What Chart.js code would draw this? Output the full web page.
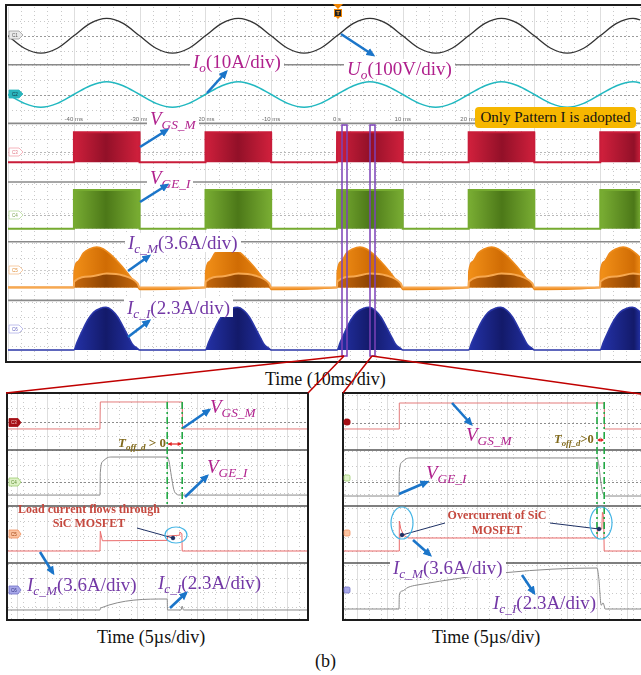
<!DOCTYPE html>
<html><head><meta charset="utf-8">
<script src="https://cdn.jsdelivr.net/npm/chart.js@4.4.1/dist/chart.umd.min.js"></script>
<style>
html,body{margin:0;padding:0;background:#fff;}
#wrap{position:relative;width:641px;height:675px;overflow:hidden;background:#fff;font-family:"Liberation Serif","DejaVu Serif",serif;}
.box{position:absolute;border:2px solid #1c1c1c;}
canvas{position:absolute;}
.lbl{position:absolute;white-space:nowrap;line-height:1;font-size:19px;font-family:"Liberation Serif",serif;color:#111;}
.lbl i{font-style:italic}
.lbl sub{font-size:0.7em;vertical-align:-0.3em;font-style:italic;line-height:0}
.mag{color:#b0218d}
.pur{color:#7338a6}
.bg{background:#fff;padding:0 3px}
.toff{position:absolute;white-space:nowrap;font:bold 13px "Liberation Serif",serif;color:#816a1c;line-height:1}
.toff sub{font-size:0.7em;vertical-align:-0.3em;line-height:0}
.note{position:absolute;font:bold 12px "Liberation Serif",serif;color:#c5483e;text-align:center;line-height:14px}
.tick{position:absolute;font:6px "Liberation Sans",sans-serif;color:#666;transform:translateX(-50%);white-space:nowrap}
#pat{position:absolute;background:#f6b700;border-radius:4px;font:15px "Liberation Serif",serif;text-align:center;color:#111}
</style>
</head>
<body>
<div id="wrap">
  <canvas id="top" width="634" height="355" style="left:7px;top:6px"></canvas>
  <div class="box" style="left:5px;top:4px;width:656px;height:355px"></div>
  <canvas id="left" width="299" height="225" style="left:8px;top:394px"></canvas>
  <div class="box" style="left:6px;top:392px;width:299px;height:225px"></div>
  <canvas id="right" width="297" height="225" style="left:344px;top:394px"></canvas>
  <div class="box" style="left:342px;top:392px;width:330px;height:225px"></div>

  <div id="ticks"></div>

  <div class="lbl mag bg" style="left:190px;top:52px"><i>I</i><sub>o</sub>(10A/div)</div>
  <div class="lbl mag bg" style="left:344px;top:59px"><i>U</i><sub>o</sub>(100V/div)</div>
  <div class="lbl mag bg" style="left:147px;top:109px"><i>V</i><sub>GS_M</sub></div>
  <div class="lbl mag bg" style="left:147px;top:168px"><i>V</i><sub>GE_I</sub></div>
  <div class="lbl pur bg" style="left:125px;top:233px"><i>I</i><sub>c_M</sub>(3.6A/div)</div>
  <div class="lbl pur bg" style="left:124px;top:298px"><i>I</i><sub>c_I</sub>(2.3A/div)</div>
  <div id="pat" style="left:475px;top:107px;width:161px;height:21px;line-height:21px">Only Pattern I is adopted</div>

  <div class="lbl" style="left:265px;top:370px;font-size:18px">Time (10ms/div)</div>

  <div class="lbl mag" style="left:210px;top:397px"><i>V</i><sub>GS_M</sub></div>
  <div class="lbl mag" style="left:207px;top:457px"><i>V</i><sub>GE_I</sub></div>
  <div class="lbl pur" style="left:27px;top:575px"><i>I</i><sub>c_M</sub>(3.6A/div)</div>
  <div class="lbl pur" style="left:158px;top:573px"><i>I</i><sub>c_I</sub>(2.3A/div)</div>
  <div class="toff" style="left:118px;top:436px"><i>T</i><sub><i>off_d</i></sub> &gt; 0</div>
  <div class="note" style="left:8px;top:502px;width:162px">Load current flows through<br>SiC MOSFET</div>

  <div class="lbl mag" style="left:466px;top:425px"><i>V</i><sub>GS_M</sub></div>
  <div class="lbl mag" style="left:426px;top:463px"><i>V</i><sub>GE_I</sub></div>
  <div class="lbl pur bg" style="left:390px;top:558px"><i>I</i><sub>c_M</sub>(3.6A/div)</div>
  <div class="lbl pur" style="left:493px;top:593px"><i>I</i><sub>c_I</sub>(2.3A/div)</div>
  <div class="toff" style="left:554px;top:433px;font-size:12.5px"><i>T</i><sub><i>off_d</i></sub>&gt;0</div>
  <div class="note" style="left:437px;top:508px;width:120px;line-height:15px">Overcurrent of SiC<br>MOSFET</div>

  <div class="lbl" style="left:97px;top:628px;font-size:18px">Time (5µs/div)</div>
  <div class="lbl" style="left:432px;top:628px;font-size:18px">Time (5µs/div)</div>
  <div class="lbl" style="left:315px;top:652px;font-size:18px">(b)</div>

  <svg width="641" height="675" style="position:absolute;left:0;top:0;pointer-events:none">
    <defs>
      <marker id="ah" viewBox="0 0 10 10" refX="7" refY="5" markerWidth="9" markerHeight="9" markerUnits="userSpaceOnUse" orient="auto">
        <path d="M0,0.5 L10,5 L0,9.5 z" fill="#1b75c9"/>
      </marker>
    </defs>
    <!-- zoom window markers -->
    <rect x="342" y="125" width="5" height="231" fill="none" stroke="#7c42b8" stroke-width="1.5"/>
    <rect x="370" y="125" width="5" height="231" fill="none" stroke="#7c42b8" stroke-width="1.5"/>
    <!-- connectors -->
    <g stroke="#c00000" stroke-width="1.5" fill="none">
      <line x1="344" y1="356" x2="6" y2="393"/>
      <line x1="344" y1="356" x2="308" y2="393"/>
      <line x1="372" y1="356" x2="343" y2="393"/>
      <line x1="372" y1="356" x2="662" y2="397"/>
    </g>
    <!-- blue arrows -->
    <g stroke="#1b75c9" stroke-width="2.6">
      <line x1="207" y1="93" x2="226" y2="72" marker-end="url(#ah)"/>
      <line x1="341" y1="34" x2="373" y2="55" marker-end="url(#ah)"/>
      <line x1="140" y1="147" x2="167" y2="130" marker-end="url(#ah)"/>
      <line x1="140" y1="202" x2="167" y2="185" marker-end="url(#ah)"/>
      <line x1="128" y1="271" x2="149" y2="256" marker-end="url(#ah)"/>
      <line x1="128" y1="337" x2="149" y2="321" marker-end="url(#ah)"/>
      <line x1="183" y1="428" x2="209" y2="410" marker-end="url(#ah)"/>
      <line x1="185" y1="497" x2="207" y2="476" marker-end="url(#ah)"/>
      <line x1="40" y1="552" x2="53" y2="573" marker-end="url(#ah)"/>
      <line x1="170" y1="608" x2="186" y2="593" marker-end="url(#ah)"/>
      <line x1="452" y1="403" x2="471" y2="424" marker-end="url(#ah)"/>
      <line x1="399" y1="494" x2="427" y2="482" marker-end="url(#ah)"/>
      <line x1="413" y1="540" x2="430" y2="555" marker-end="url(#ah)"/>
      <line x1="522" y1="575" x2="534" y2="593" marker-end="url(#ah)"/>
    </g>
    <!-- pointers -->
    <g stroke="#1d2f63" stroke-width="1" fill="#1d2f63">
      <line x1="137" y1="528" x2="173" y2="538"/><circle cx="173" cy="538" r="1.8"/>
      <line x1="445" y1="523" x2="402" y2="535"/><circle cx="402" cy="535" r="1.8"/>
      <line x1="550" y1="523" x2="599" y2="529"/><circle cx="599" cy="529" r="1.8"/>
    </g>
    <g stroke="#45b5e5" stroke-width="1.2" fill="none">
      <ellipse cx="176" cy="535" rx="11" ry="8"/>
      <ellipse cx="402" cy="523" rx="11" ry="16"/>
      <ellipse cx="601" cy="523" rx="11" ry="16"/>
    </g>
    <!-- channel tags -->
    <g font-family="Liberation Sans" font-size="4.5" text-anchor="middle">
      <polygon points="9,31 19,31 23,35 19,39 9,39" fill="#e9e9e9" stroke="#9a9a9a" stroke-width="0.8"/><text x="15" y="36.6" fill="#555">C1</text>
      <polygon points="9,90 19,90 23,94 19,98 9,98" fill="#2ab5bd" stroke="#2ab5bd" stroke-width="0.8"/><text x="15" y="95.6" fill="#134">C2</text>
      <polygon points="9,148 19,148 23,152 19,156 9,156" fill="#fff" stroke="#f2a2ac" stroke-width="0.8"/><text x="15" y="153.6" fill="#e07080">C3</text>
      <polygon points="9,211 19,211 23,215 19,219 9,219" fill="#fff" stroke="#b6d99a" stroke-width="0.8"/><text x="15" y="216.6" fill="#7aa050">C4</text>
      <polygon points="9,266 19,266 23,270 19,274 9,274" fill="#fff" stroke="#f5c090" stroke-width="0.8"/><text x="15" y="271.6" fill="#e08a30">C5</text>
      <polygon points="9,325 19,325 23,329 19,333 9,333" fill="#fff" stroke="#b0b0e8" stroke-width="0.8"/><text x="15" y="330.6" fill="#6060c0">C6</text>

      <polygon points="9,418.5 18,418.5 21,422.5 18,426.5 9,426.5" fill="#a50f15" stroke="#a50f15" stroke-width="0.8"/><text x="14" y="424" fill="#f3c0c0">C3</text>
      <polygon points="9,478 18,478 21,482 18,486 9,486" fill="#dff2c8" stroke="#9ccc70" stroke-width="0.8"/><text x="14" y="483.6" fill="#5a8a30">C4</text>
      <polygon points="9,530 18,530 21,534 18,538 9,538" fill="#fbc3a0" stroke="#f09060" stroke-width="0.8"/><text x="14" y="535.6" fill="#a04010">C5</text>
      <polygon points="9,586 18,586 21,590 18,594 9,594" fill="#a8a8e8" stroke="#7070c8" stroke-width="0.8"/><text x="14" y="591.6" fill="#303080">C6</text>

      <circle cx="347" cy="422" r="3.6" fill="#a50f15"/>
      <rect x="344" y="475" width="6" height="6" rx="1.5" fill="#dff2c8" stroke="#9ccc70" stroke-width="0.8"/>
      <rect x="344" y="530" width="6" height="6" rx="1.5" fill="#fbc3a0" stroke="#f09060" stroke-width="0.8"/>
      <rect x="344" y="587" width="6" height="6" rx="1.5" fill="#a8a8e8" stroke="#7070c8" stroke-width="0.8"/>
    </g>
    <!-- trigger marker -->
    <polygon points="333,4 343,4 338,9" fill="#f08400"/>
    <rect x="334.5" y="9.5" width="7" height="7" fill="#222" stroke="#f08400" stroke-width="1"/>
    <text x="338" y="15" font-family="Liberation Sans" font-size="6" font-weight="bold" fill="#f6a030" text-anchor="middle">T</text>
    <polygon points="336,17 340,17 338,19" fill="#f08400"/>
  </svg>
</div>

<script>
// ===================== DATA =====================
// Top screen: 10 ms/div, sample times of the two sinusoids
const sineTimeMs = [-52.5,-50,-47.5,-45,-42.5,-40,-37.5,-35,-32.5,-30,-27.5,-25,-22.5,-20,-17.5,-15,-12.5,-10,-7.5,-5,-2.5,0,2.5,5,7.5,10,12.5,15,17.5,20,22.5,25,27.5,30,32.5,35,37.5,40,42.5,45,47.5];
// Output voltage Uo (V), 100 V/div
const uoVolts = [35,0,-35,-49,-35,0,35,49, 35,0,-35,-49,-35,0,35,49, 35,0,-35,-49,-35,0,35,49, 35,0,-35,-49,-35,0,35,49, 35,0,-35,-49,-35,0,35,49, 35];
// Output current Io (A), 10 A/div
const ioAmps = [2.5,0,-2.5,-3.6,-2.5,0,2.5,3.6, 2.5,0,-2.5,-3.6,-2.5,0,2.5,3.6, 2.5,0,-2.5,-3.6,-2.5,0,2.5,3.6, 2.5,0,-2.5,-3.6,-2.5,0,2.5,3.6, 2.5,0,-2.5,-3.6,-2.5,0,2.5,3.6, 2.5];
// Switching bursts (ms)
const burstStartMs = [-40, -20, 0, 20, 40];
const burstEndMs = [-30, -10, 10, 30, 50];
// Gate levels on the top screen (V): [off, on]
const vgsTopLevelsV = [-5.6, 11.2];
const vgeTopLevelsV = [-5.9, 10.5];
// Ic_M envelope within one burst (time from burst start, ms / A)
const icmHumpTimeMs = [0, 0.05, 0.6, 1.5, 2.4, 3.5, 4.5, 5.5, 6.7, 8.0, 9.0, 9.7, 10];
const icmHumpAmps = [0, 1.6, 2.6, 3.5, 3.9, 4.1, 3.9, 3.4, 2.6, 1.6, 0.7, 0.1, -0.2];
const icmInnerTimeMs = [0, 0.05, 2.5, 5, 7.5, 9.7, 10];
const icmInnerAmps = [0, 0.6, 1.1, 1.4, 1.2, 0.4, 0];
// Ic_I envelope within one burst
const iciHumpTimeMs = [0, 0.5, 1.2, 2.1, 3.0, 4.0, 4.9, 5.8, 6.7, 7.6, 8.4, 9.0, 9.6, 10];
const iciHumpAmps = [0, 0.5, 1.16, 1.93, 2.45, 2.7, 2.77, 2.58, 2.13, 1.42, 0.77, 0.32, 0.13, 0];
// Tick labels of the top screen
const topTickMs = [-40, -30, -20, -10, 0, 10, 20, 30, 40];
const topTickLabels = ['-40 ms', '-30 ms', '-20 ms', '-10 ms', '0 s', '10 ms', '20 ms', '30 ms', '40 ms'];

// Left zoom (5 us/div): turn-on / turn-off at low current
const lVgsUs = [-16, 0, 0.05, 13.7, 13.75, 35];
const lVgsV = [-4.9, -4.9, 14.1, 14.1, -4.9, -4.9];
const lVgeUs = [-16, 0, 0.05, 0.5, 1.2, 2.0, 11.2, 11.5, 11.9, 12.3, 12.8, 13.3, 35];
const lVgeV = [-6.9, -6.9, 5, 11, 12.8, 13.2, 13.2, 11, 3, -4, -6.5, -6.9, -6.9];
const lIcmUs = [-16, 0, 0.05, 0.4, 11.2, 11.25, 13.2, 13.3, 13.65, 13.7, 35];
const lIcmA = [0, 0, 2.5, 1.3, 1.35, 1.9, 2.0, 2.4, 2.2, 0, 0];
const lIciUs = [-16, 0, 0.1, 11.2, 11.25, 13.5, 13.7, 13.9, 35];
const lIciA = [0, 0, 0.16, 0.89, 0, 0, 0.32, 0, 0];
const leftDeadtimeUs = [11.2, 13.7];

// Right zoom (5 us/div): overcurrent of SiC MOSFET
const rVgsUs = [-10, 0, 0.05, 34.2, 34.25, 41];
const rVgsV = [-4.2, -4.2, 14.1, 14.1, -4.2, -4.2];
const rVgeUs = [-10, 0, 0.05, 0.5, 1.2, 2.0, 33.0, 33.3, 33.6, 33.9, 34.2, 34.5, 41];
const rVgeV = [-7.4, -7.4, 5, 10.5, 12.3, 12.7, 12.7, 9, 1, -5, -7, -7.4, -7.4];
const rIcmUs = [-10, 0, 0.05, 0.3, 0.8, 1.5, 33.0, 33.05, 33.8, 33.9, 34.1, 34.2, 41];
const rIcmA = [0, 0, 3.8, 2.8, 2.0, 1.65, 1.65, 2.66, 2.8, 4.9, 4.5, 0, 0];
const rIciUs = [-10, 0, 0.05, 0.5, 1.5, 3.0, 33.0, 33.3, 33.7, 34.0, 34.4, 41];
const rIciA = [0, 0, 1.13, 1.45, 1.75, 1.94, 3.32, 2.5, 0.3, 0.5, 0, 0];
const rightDeadtimeUs = [33.0, 34.2];

// ===================== CHANNEL SETUP (divisions) =====================
const topCh = {
  uo: {zero: 9.132, perDiv: 100}, io: {zero: 7.479, perDiv: 10},
  vgs: {zero: 5.854, perDiv: 20}, vge: {zero: 4.090, perDiv: 15},
  icm: {zero: 2.045, perDiv: 3.6}, ici: {zero: 0.280, perDiv: 2.3}
};
const leftCh = {vgs: {zero: 6.937, perDiv: 20}, vge: {zero: 4.824, perDiv: 15}, icm: {zero: 2.394, perDiv: 3.6}, ici: {zero: 0.317, perDiv: 2.3}};
const rightCh = {vgs: {zero: 6.901, perDiv: 20}, vge: {zero: 4.824, perDiv: 15}, icm: {zero: 2.394, perDiv: 3.6}, ici: {zero: 0.352, perDiv: 2.3}};

const pts = (ts, vs, ch) => ts.map((t, i) => ({x: t, y: ch.zero + vs[i] / ch.perDiv}));
function gateEnvelope(levels, ch) {
  const lo = ch.zero + levels[0] / ch.perDiv, hi = ch.zero + levels[1] / ch.perDiv;
  const out = [{x: -55, y: lo}];
  burstStartMs.forEach((s, i) => { const e = burstEndMs[i]; out.push({x: s, y: lo}, {x: s + 0.02, y: hi}, {x: e - 0.02, y: hi}, {x: e, y: lo}); });
  out.push({x: 55, y: lo});
  return out;
}
function humpSeries(tRel, vals, ch) {
  const out = [{x: -55, y: ch.zero}];
  burstStartMs.forEach(s => tRel.forEach((t, i) => out.push({x: s + t, y: ch.zero + vals[i] / ch.perDiv})));
  out.push({x: 55, y: ch.zero});
  return out;
}

// ===================== PLUGINS =====================
function hl(ctx, x1, x2, y) { ctx.beginPath(); ctx.moveTo(x1, y); ctx.lineTo(x2, y); ctx.stroke(); }
function vl(ctx, x, y1, y2) { ctx.beginPath(); ctx.moveTo(x, y1); ctx.lineTo(x, y2); ctx.stroke(); }
const scopeGrid = {
  id: 'scopeGrid',
  beforeDatasetsDraw(chart, args, o) {
    const {ctx, chartArea: ca, scales: {x, y}} = chart;
    ctx.save();
    ctx.lineWidth = 1;
    // dotted minor verticals
    ctx.strokeStyle = '#c9c9c9'; ctx.setLineDash([1, 3]);
    for (let t = o.origin - Math.ceil((o.origin - x.min) / o.minor) * o.minor; t <= x.max; t += o.minor) {
      vl(ctx, Math.round(x.getPixelForValue(t)) + 0.5, ca.top, ca.bottom);
    }
    // dotted rows
    for (let v = o.rowRef - Math.floor(o.rowRef / o.rowStep) * o.rowStep; v <= y.max; v += o.rowStep) {
      hl(ctx, ca.left, ca.right, Math.round(y.getPixelForValue(v)) + 0.5);
    }
    // solid major verticals
    ctx.setLineDash([]); ctx.strokeStyle = '#dedede';
    for (let t = o.origin - Math.ceil((o.origin - x.min) / o.major) * o.major; t <= x.max; t += o.major) {
      vl(ctx, Math.round(x.getPixelForValue(t)) + 0.5, ca.top, ca.bottom);
    }
    // reference lines
    ctx.setLineDash([2, 2]);
    o.refs.forEach(r => { ctx.strokeStyle = r.c; hl(ctx, ca.left, ca.right, Math.round(y.getPixelForValue(r.y)) + 0.5); });
    // separators
    ctx.setLineDash([]); ctx.strokeStyle = o.sepColor; ctx.lineWidth = 1.6;
    o.seps.forEach(v => hl(ctx, ca.left, ca.right, y.getPixelForValue(v)));
    ctx.restore();
  }
};
const deadtime = {
  id: 'deadtime',
  afterDatasetsDraw(chart, args, o) {
    const {ctx, scales: {x, y}} = chart;
    ctx.save();
    const y1 = y.getPixelForValue(o.yTop), y2 = y.getPixelForValue(o.yBot);
    ctx.strokeStyle = '#22a844'; ctx.lineWidth = 1.6; ctx.setLineDash([7, 3, 2, 3]);
    const xs = o.edges.map(t => x.getPixelForValue(t));
    xs.forEach(px => vl(ctx, px, y1, y2));
    ctx.setLineDash([]);
    const ay = y.getPixelForValue(o.arrowY);
    ctx.strokeStyle = '#e32020'; ctx.fillStyle = '#e32020'; ctx.lineWidth = 1.2;
    hl(ctx, xs[0] + 1, xs[1] - 1, ay);
    const h = Math.min(4, (xs[1] - xs[0]) / 2.5);
    ctx.beginPath(); ctx.moveTo(xs[0] + 0.5, ay); ctx.lineTo(xs[0] + 0.5 + h, ay - 2); ctx.lineTo(xs[0] + 0.5 + h, ay + 2); ctx.fill();
    ctx.beginPath(); ctx.moveTo(xs[1] - 0.5, ay); ctx.lineTo(xs[1] - 0.5 - h, ay - 2); ctx.lineTo(xs[1] - 0.5 - h, ay + 2); ctx.fill();
    ctx.restore();
  }
};

function baseOptions(xMin, xMax, yMax, pluginOpts) {
  return {
    responsive: false, maintainAspectRatio: false, animation: false,
    layout: {padding: 0},
    plugins: Object.assign({legend: {display: false}, tooltip: {enabled: false}}, pluginOpts),
    scales: {
      x: {type: 'linear', min: xMin, max: xMax, display: false},
      y: {type: 'linear', min: 0, max: yMax, display: false}
    },
    elements: {point: {radius: 0}, line: {tension: 0}}
  };
}

// ===================== TOP CHART =====================
const topChart = new Chart(document.getElementById('top'), {
  type: 'line',
  data: {datasets: [
    {data: pts(sineTimeMs, uoVolts, topCh.uo), borderColor: '#333', borderWidth: 1.3, cubicInterpolationMode: 'monotone', order: 0},
    {data: pts(sineTimeMs, ioAmps, topCh.io), borderColor: '#22b8c0', borderWidth: 1.6, cubicInterpolationMode: 'monotone', order: 0},
    {data: gateEnvelope(vgsTopLevelsV, topCh.vgs), borderColor: '#c91d3a', borderWidth: 2, backgroundColor: '#c01530',
     fill: {value: topCh.vgs.zero + vgsTopLevelsV[0] / topCh.vgs.perDiv}, order: 1},
    {data: gateEnvelope(vgeTopLevelsV, topCh.vge), borderColor: '#76ab30', borderWidth: 2, backgroundColor: '#66982a',
     fill: {value: topCh.vge.zero + vgeTopLevelsV[0] / topCh.vge.perDiv}, order: 1},
    {data: humpSeries(icmHumpTimeMs, icmHumpAmps, topCh.icm), borderColor: '#ec8a1c', borderWidth: 1.6, backgroundColor: '#ee8612',
     fill: {value: topCh.icm.zero}, cubicInterpolationMode: 'monotone', order: 3},
    {data: humpSeries(icmInnerTimeMs, icmInnerAmps, topCh.icm), borderColor: '#f7a850', borderWidth: 2, backgroundColor: '#b85a06',
     fill: {value: topCh.icm.zero}, cubicInterpolationMode: 'monotone', order: 2},
    {data: humpSeries(iciHumpTimeMs, iciHumpAmps, topCh.ici), borderColor: '#2a36a8', borderWidth: 1.6, backgroundColor: '#1d289a',
     fill: {value: topCh.ici.zero}, cubicInterpolationMode: 'monotone', order: 1}
  ]},
  options: baseOptions(-50, 46.06, 9.944, {scopeGrid: {
    origin: 0, minor: 2, major: 10, rowRef: topCh.uo.zero, rowStep: 0.4167,
    refs: [{y: 9.132, c: '#9a9a9a'}, {y: 7.479, c: '#9a9a9a'}, {y: 5.854, c: '#b8b8b8'}, {y: 4.090, c: '#b8b8b8'}, {y: 2.549, c: '#cccccc'}, {y: 0.896, c: '#cccccc'}],
    seps: [8.319, 6.667, 5.014, 3.333, 1.681], sepColor: '#8a8a8a'
  }}),
  plugins: [scopeGrid]
});

function burstGradient(chart, edge, dark) {
  const ca = chart.chartArea, xs = chart.scales.x, w = ca.right - ca.left;
  const g = chart.ctx.createLinearGradient(ca.left, 0, ca.right, 0);
  let last = 0;
  burstStartMs.forEach((s, i) => {
    const e = burstEndMs[i];
    [[s, edge], [(s + e) / 2, dark], [e, edge]].forEach(([t, c]) => {
      let f = (xs.getPixelForValue(t) - ca.left) / w;
      f = Math.min(1, Math.max(last, f));
      g.addColorStop(f, c); last = f;
    });
  });
  return g;
}
const tds = topChart.data.datasets;
tds[2].backgroundColor = burstGradient(topChart, '#d0203c', '#921028');
tds[3].backgroundColor = burstGradient(topChart, '#79ad33', '#4c7818');
tds[4].backgroundColor = burstGradient(topChart, '#f29018', '#d06c04');
tds[5].backgroundColor = burstGradient(topChart, '#c86a0c', '#8e4402');
tds[6].backgroundColor = burstGradient(topChart, '#2432a8', '#131a6a');
topChart.update('none');

// tick labels placed through the top x scale
const ticksDiv = document.getElementById('ticks');
topTickMs.forEach((t, i) => {
  const d = document.createElement('div');
  d.className = 'tick';
  d.style.left = (7 + topChart.scales.x.getPixelForValue(t)) + 'px';
  d.style.top = '116px';
  d.textContent = topTickLabels[i];
  ticksDiv.appendChild(d);
});

// ===================== ZOOM CHARTS =====================
function zoomChart(id, ch, d, xMin, xMax, origin, edges, yBot, arrowY) {
  return new Chart(document.getElementById(id), {
    type: 'line',
    data: {datasets: [
      {data: pts(d.vgsT, d.vgsV, ch.vgs), borderColor: '#e37b7b', borderWidth: 1},
      {data: pts(d.vgeT, d.vgeV, ch.vge), borderColor: '#8a8a8a', borderWidth: 1, cubicInterpolationMode: 'monotone'},
      {data: pts(d.icmT, d.icmV, ch.icm), borderColor: '#ea6a6a', borderWidth: 1},
      {data: pts(d.iciT, d.iciV, ch.ici), borderColor: '#8a8a8a', borderWidth: 1, cubicInterpolationMode: 'monotone'}
    ]},
    options: baseOptions(xMin, xMax, 7.923, {
      scopeGrid: {origin: origin, minor: 2, major: 5, rowRef: ch.vgs.zero, rowStep: 0.5,
        refs: [{y: ch.vgs.zero, c: '#8c8c8c'}, {y: ch.vge.zero, c: '#8c8c8c'}],
        seps: [5.951, 3.979, 1.972], sepColor: '#555'},
      deadtime: {edges: edges, yTop: 7.641, yBot: yBot, arrowY: arrowY}
    }),
    plugins: [scopeGrid, deadtime]
  });
}
zoomChart('left', leftCh,
  {vgsT: lVgsUs, vgsV: lVgsV, vgeT: lVgeUs, vgeV: lVgeV, icmT: lIcmUs, icmV: lIcmA, iciT: lIciUs, iciV: lIciA},
  -15.333, 34.5, leftDeadtimeUs[0], leftDeadtimeUs, 3.944, 6.162);
zoomChart('right', rightCh,
  {vgsT: rVgsUs, vgsV: rVgsV, vgeT: rVgeUs, vgeV: rVgeV, icmT: rIcmUs, icmV: rIcmA, iciT: rIciUs, iciV: rIciA},
  -9.167, 40.333, rightDeadtimeUs[0], rightDeadtimeUs, 2.852, 6.303);
</script>
</body></html>
